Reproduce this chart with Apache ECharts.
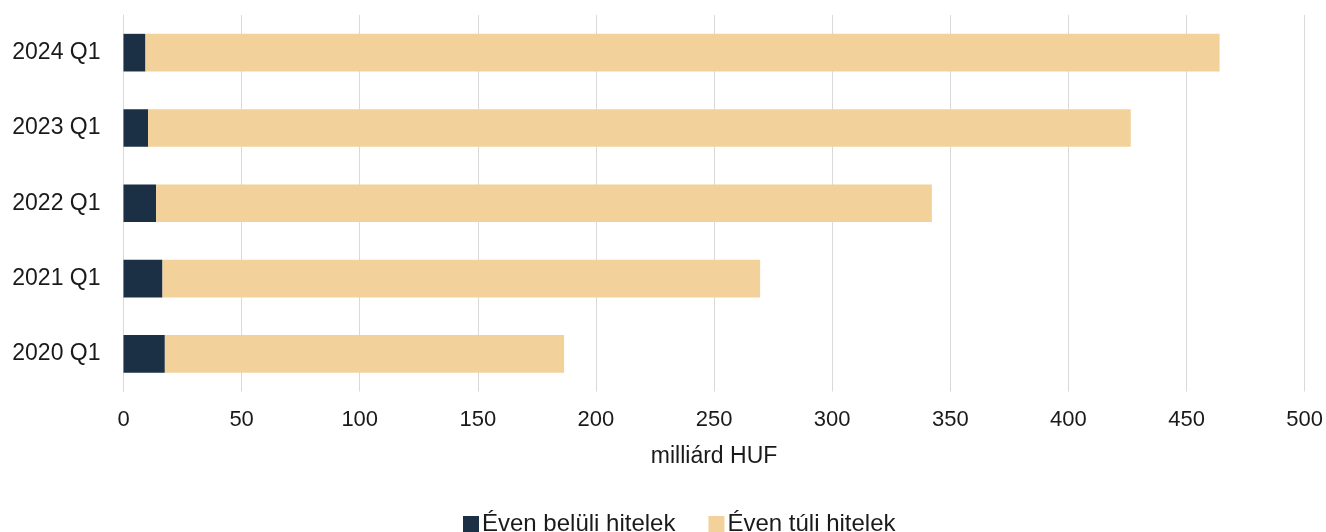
<!DOCTYPE html>
<html><head><meta charset="utf-8">
<script src="https://cdn.jsdelivr.net/npm/echarts@6/dist/echarts.min.js"></script>
<style>html,body{margin:0;padding:0;background:#fff}#c{width:1326px;height:532px}</style>
</head><body><div id="c"></div>
<script>
const categories = ['2020 Q1','2021 Q1','2022 Q1','2023 Q1','2024 Q1'];
const shortTerm = [17.5, 16.5, 13.8, 10.4, 9.3];
const totals = [186.5, 269.5, 342.2, 426.4, 464.0];
const longTerm = totals.map((t,i)=>+(t - shortTerm[i]).toFixed(1));
const seriesNames = ['Éven belüli hitelek','Éven túli hitelek'];
const xTicks = [0,50,100,150,200,250,300,350,400,450,500];

const chart = echarts.init(document.getElementById('c'));
const font = 'Liberation Sans, Arial, sans-serif';
chart.setOption({
  animation:false,
  textStyle:{fontFamily:font},
  grid:{left:123.5, right:21, top:15, bottom:140.5, containLabel:false},
  legend:{top:507, left:458, padding:5, itemWidth:16, itemHeight:16, itemGap:33, icon:'rect',
    textStyle:{fontSize:24, color:'#1a1a1a', fontFamily:font, padding:[0,0,0,-2]},
    data:seriesNames},
  xAxis:{type:'value', min:xTicks[0], max:xTicks[xTicks.length-1], interval:50,
    name:'milliárd HUF', nameLocation:'middle', nameGap:54,
    nameTextStyle:{fontSize:23, color:'#1a1a1a', fontFamily:font},
    axisLine:{show:false}, axisTick:{show:false},
    axisLabel:{fontSize:22, color:'#1a1a1a', margin:17, fontFamily:font},
    splitLine:{lineStyle:{color:'#d9d9d9', width:1}}},
  yAxis:{type:'category', data:categories,
    axisLine:{show:true, lineStyle:{color:'#d9d9d9', width:1}},
    axisTick:{show:false},
    axisLabel:{fontSize:23, color:'#1a1a1a', margin:23, fontFamily:font}},
  series:[
    {name:seriesNames[0], type:'bar', stack:'a', data:shortTerm, barWidth:'50%',
      itemStyle:{color:'#1b3044'}},
    {name:seriesNames[1], type:'bar', stack:'a', data:longTerm, barWidth:'50%',
      itemStyle:{color:'#f2d29a'}}
  ]
});
</script></body></html>
